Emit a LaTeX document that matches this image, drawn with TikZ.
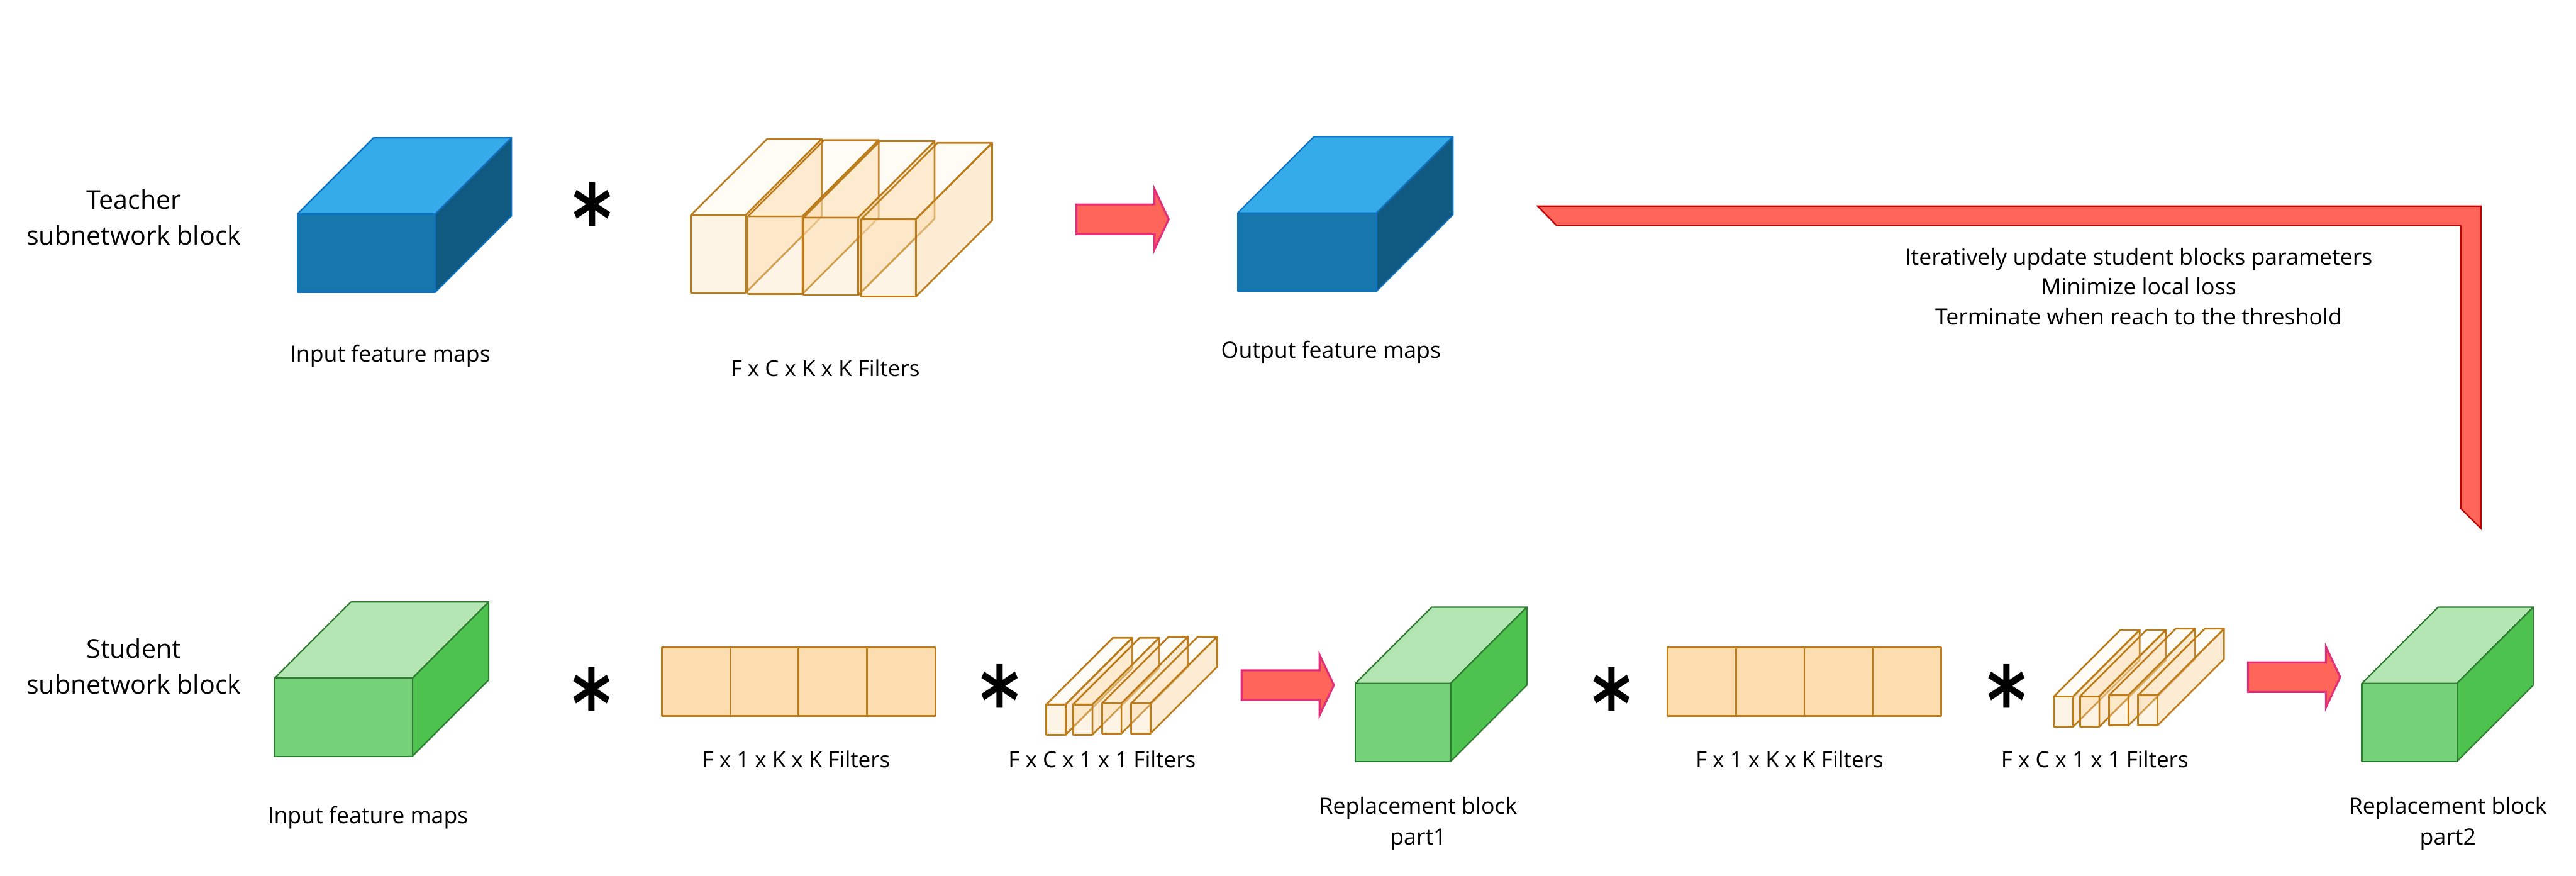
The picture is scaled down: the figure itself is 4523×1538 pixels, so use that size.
\documentclass[tikz,border=0pt]{standalone}
\usepackage{fontspec}
\setmainfont{Open Sans}
\usepackage{xcolor}
\newfontfamily\starfont{DejaVu Sans}
\usetikzlibrary{positioning, calc}

\definecolor{blueTop}{HTML}{35ABE9}
\definecolor{blueFront}{HTML}{1577AB}
\definecolor{blueSide}{HTML}{105A82}
\definecolor{blueEdge}{HTML}{0F72C0}
\definecolor{greenTop}{HTML}{B4E6B4}
\definecolor{greenFront}{HTML}{76D278}
\definecolor{greenSide}{HTML}{4DC24F}
\definecolor{greenEdge}{HTML}{2F7D32}
\definecolor{filterFill}{HTML}{FBDDB0}
\definecolor{filterEdge}{HTML}{BC7C1C}
\definecolor{arrowFill}{HTML}{FF6659}
\definecolor{arrowEdge}{HTML}{E0307A}
\definecolor{bendEdge}{HTML}{C00000}

\tikzset{
  caption/.style={font=\fontsize{11.2}{15.3}\selectfont, align=center, inner sep=0pt},
  filtercaption/.style={font=\fontsize{11}{15.3}\selectfont, inner sep=0pt},
  blocklabel/.style={font=\fontsize{12.95}{17.9}\selectfont, align=center, inner sep=0pt},
  notelabel/.style={font=\fontsize{11.2}{15}\selectfont, align=center, inner sep=0pt},
  convstar/.style={font=\starfont\bfseries\fontsize{47}{47}\selectfont, xscale=0.8, inner sep=0pt},
  blockline/.style={line width=0.7pt, line join=round},
  filterline/.style={draw=filterEdge, line width=0.85pt, line join=round},
  blockarrow/.style={draw=arrowEdge, fill=arrowFill, line width=1pt, line join=miter},
  bentarrow/.style={draw=bendEdge, fill=arrowFill, line width=0.7pt}
}

\begin{document}
\begin{tikzpicture}[x=0.01cm, y=-0.01cm]
\useasboundingbox (0,0) rectangle (4523,1538);

% Teacher and student blocks: x, y, width, colour name
\foreach \bx/\by/\bw/\bc in {522/376/242/blue, 2173/374/244/blue, 482/1191/242/green, 2380/1200/167/green, 4147/1200/167/green} {
  \draw[blockline, draw=\bc Edge, fill=\bc Top] (\bx,\by) -- ++(134,-134) -- ++(\bw,0) -- ++(-134,134) -- cycle;
  \draw[blockline, draw=\bc Edge, fill=\bc Side] (\bx+\bw,\by) -- ++(134,-134) -- ++(0,137) -- ++(-134,134) -- cycle;
  \draw[blockline, draw=\bc Edge, fill=\bc Front] (\bx,\by) rectangle ++(\bw,137);
}

% Deep filters
\foreach \px/\py in {1213/378, 1313/380, 1411/382, 1512/385} {
  \draw[filterline, fill=filterFill, fill opacity=0.12] (\px,\py) -- ++(134,-134) -- ++(96,0) -- ++(-134,134) -- cycle;
  \draw[filterline, fill=filterFill, fill opacity=0.55] (\px+96,\py) -- ++(134,-134) -- ++(0,136) -- ++(-134,134) -- cycle;
  \draw[filterline, fill=filterFill, fill opacity=0.32] (\px,\py) rectangle ++(96,136);
}

% Flat filters
\foreach \fx in {1162, 2928} {
  \foreach \n in {0,...,3} {
    \draw[filterline, fill=filterFill] (\fx+\n*120,1137) rectangle ++(120,120);
  }
}

% Thin filters
\foreach \px/\py in {1837/1237, 1884/1237, 1935/1235, 1986/1235, 3606/1223, 3652/1223, 3703/1221, 3754/1221} {
  \draw[filterline, fill=filterFill, fill opacity=0.12] (\px,\py) -- ++(117,-117) -- ++(34,0) -- ++(-117,117) -- cycle;
  \draw[filterline, fill=filterFill, fill opacity=0.55] (\px+34,\py) -- ++(117,-117) -- ++(0,53) -- ++(-117,117) -- cycle;
  \draw[filterline, fill=filterFill, fill opacity=0.32] (\px,\py) rectangle ++(34,53);
}

% Block arrows
\foreach \ax/\ay in {1890/385, 2180/1203, 3947/1189} {
  \draw[blockarrow] (\ax,\ay-26) -- ++(137,0) -- ++(0,-27) -- (\ax+162,\ay) -- (\ax+137,\ay+53) -- ++(0,-27) -- (\ax,\ay+26) -- cycle;
}

% Bent arrow
\draw[bentarrow] (2700,362) -- (4356,362) -- (4356,928) -- (4321,893) -- (4321,396) -- (2733,396) -- cycle;

% Stars
\node[convstar] (star1) at (1040,382) {*};
\node[convstar] (star2) at (1039,1233) {*};
\node[convstar] (star3) at (1755,1228) {*};
\node[convstar] (star4) at (2830,1233) {*};
\node[convstar] (star5) at (3523,1228) {*};

% Labels
\node[blocklabel] (teacher) at (235,381) {Teacher\\subnetwork block};
\node[blocklabel] (student) at (235,1170) {Student\\subnetwork block};
\node[caption] (inputT) at (685,625) {Input feature maps};
\node[filtercaption] (filterT) at (1449,646) {F x C x K x K Filters};
\node[caption] (outputT) at (2337,619) {Output feature maps};
\node[notelabel] (note) at (3755,503) {Iteratively update student blocks parameters\\Minimize local loss\\Terminate when reach to the threshold};
\node[caption] (inputS) at (646,1436) {Input feature maps};
\node[filtercaption] (filterS1) at (1398,1333) {F x 1 x K x K Filters};
\node[filtercaption] (filterS2) at (1935,1333) {F x C x 1 x 1 Filters};
\node[filtercaption] (filterS3) at (3142,1333) {F x 1 x K x K Filters};
\node[filtercaption] (filterS4) at (3678,1333) {F x C x 1 x 1 Filters};
\node[caption] (part1) at (2490,1446) {Replacement block\\part1};
\node[caption] (part2) at (4298,1446) {Replacement block\\part2};
\end{tikzpicture}
\end{document}
